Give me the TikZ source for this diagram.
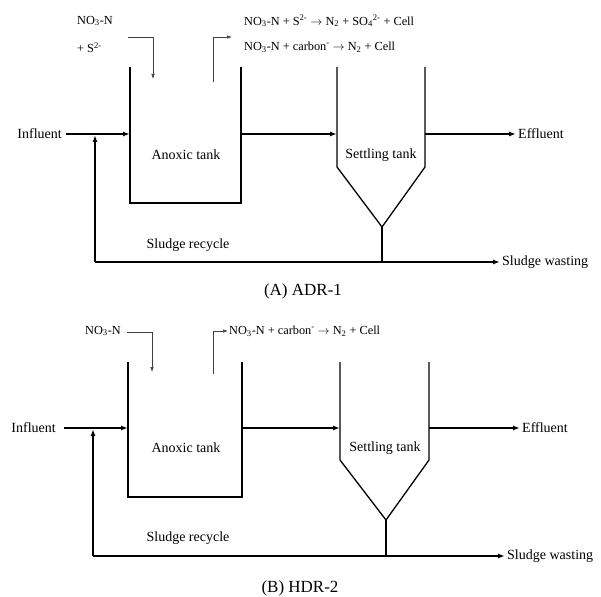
\documentclass[tikz,border=0pt]{standalone}
\usepackage{fontspec}
\setmainfont{Liberation Serif}
\usetikzlibrary{arrows.meta}
\begin{document}
\begin{tikzpicture}[x=1pt, y=-1pt,
    lbl/.style={font=\fontsize{14}{16}\selectfont, inner sep=2pt},
    small/.style={font=\fontsize{12.3}{14}\selectfont, inner sep=1pt, anchor=west},
    caption/.style={font=\fontsize{17}{19}\selectfont},
    wall/.style={line width=1.3pt},
    flow/.style={line width=1.5pt, -{Latex[length=7pt, width=5pt]}},
    feed/.style={line width=0.6pt, black!75, -{Latex[length=5pt, width=3.5pt]}}]
    \useasboundingbox (0,0) rectangle (601,596);
    % (A) ADR-1
    \node[small] (no3A) at (76,21) {NO\textsubscript{3}-N};
    \node[small] (sA) at (76,48) {+ S\textsuperscript{2-}};
    \node[small] (rx1A) at (243,21) {NO\textsubscript{3}-N + S\textsuperscript{2-} $\rightarrow$ N\textsubscript{2} + SO\textsubscript{4}\textsuperscript{2-} + Cell};
    \node[small] (rx2A) at (243,47) {NO\textsubscript{3}-N + carbon\textsuperscript{-} $\rightarrow$ N\textsubscript{2} + Cell};
    \coordinate (feedA) at (128,37);
    \coordinate (dropA) at (153,79);
    \coordinate (ventA) at (213,82);
    \coordinate (gasA) at (232,37);
    \draw[feed] (feedA) -| (dropA);
    \draw[feed] (ventA) |- (gasA);
    \coordinate (anTLa) at (130,67);
    \coordinate (anBLa) at (130,203);
    \coordinate (anBRa) at (241,203);
    \coordinate (anTRa) at (241,67);
    \draw[wall] (anTLa) -- (anBLa) -- (anBRa) -- (anTRa);
    \node[lbl] (anoxA) at (186,155) {Anoxic tank};
    \coordinate (stTLa) at (337,67);
    \coordinate (stMLa) at (337,167);
    \coordinate (apexA) at (382,227);
    \coordinate (stMRa) at (425,167);
    \coordinate (stTRa) at (425,67);
    \draw[wall] (stTLa) -- (stMLa) -- (apexA) -- (stMRa) -- (stTRa);
    \node[lbl] (settleA) at (381,155) {Settling tank};
    \node[lbl, anchor=east] (inflA) at (64,134) {Influent};
    \node[lbl, anchor=west] (effA) at (516,134) {Effluent};
    \draw[flow] ([xshift=2pt]inflA.east) -- (inflA.east -| anTLa);
    \draw[flow] (inflA -| anTRa) -- (inflA -| stTLa);
    \draw[flow] (inflA -| stTRa) -- (effA.west);
    \coordinate (junA) at (382,262);
    \coordinate (recA) at (95,262);
    \node[lbl, anchor=west] (wasteA) at (500,262) {Sludge wasting};
    \draw[wall] (apexA) -- (junA);
    \draw[flow] (recA) -- (wasteA.west);
    \draw[flow] (recA) -- ([yshift=-1pt]recA |- inflA);
    \node[lbl] (recyA) at (188,245) {Sludge recycle};
    \node[caption] (capA) at (303,291) {(A) ADR-1};
    % (B) HDR-2
    \node[small] (no3B) at (84,331) {NO\textsubscript{3}-N};
    \node[small] (rx1B) at (228,331) {NO\textsubscript{3}-N + carbon\textsuperscript{-} $\rightarrow$ N\textsubscript{2} + Cell};
    \coordinate (feedB) at (127,332);
    \coordinate (dropB) at (152,372);
    \coordinate (ventB) at (213,374);
    \draw[feed] (feedB) -| (dropB);
    \draw[feed] (ventB) |- (rx1B.west);
    \coordinate (anTLb) at (128,362);
    \coordinate (anBLb) at (128,497);
    \coordinate (anBRb) at (242,497);
    \coordinate (anTRb) at (242,362);
    \draw[wall] (anTLb) -- (anBLb) -- (anBRb) -- (anTRb);
    \node[lbl] (anoxB) at (186,448) {Anoxic tank};
    \coordinate (stTLb) at (340,362);
    \coordinate (stMLb) at (340,460);
    \coordinate (apexB) at (386,520);
    \coordinate (stMRb) at (429,460);
    \coordinate (stTRb) at (429,362);
    \draw[wall] (stTLb) -- (stMLb) -- (apexB) -- (stMRb) -- (stTRb);
    \node[lbl] (settleB) at (385,448) {Settling tank};
    \node[lbl, anchor=east] (inflB) at (58,428) {Influent};
    \node[lbl, anchor=west] (effB) at (520,428) {Effluent};
    \draw[flow] ([xshift=6pt]inflB.east) -- (inflB.east -| anTLb);
    \draw[flow] (inflB -| anTRb) -- (inflB -| stTLb);
    \draw[flow] (inflB -| stTRb) -- (effB.west);
    \coordinate (junB) at (386,556);
    \coordinate (recB) at (93,556);
    \node[lbl, anchor=west] (wasteB) at (505,556) {Sludge wasting};
    \draw[wall] (apexB) -- (junB);
    \draw[flow] (recB) -- (wasteB.west);
    \draw[flow] (recB) -- ([yshift=-1pt]recB |- inflB);
    \node[lbl] (recyB) at (188,538) {Sludge recycle};
    \node[caption] (capB) at (300,588) {(B) HDR-2};
\end{tikzpicture}
\end{document}
